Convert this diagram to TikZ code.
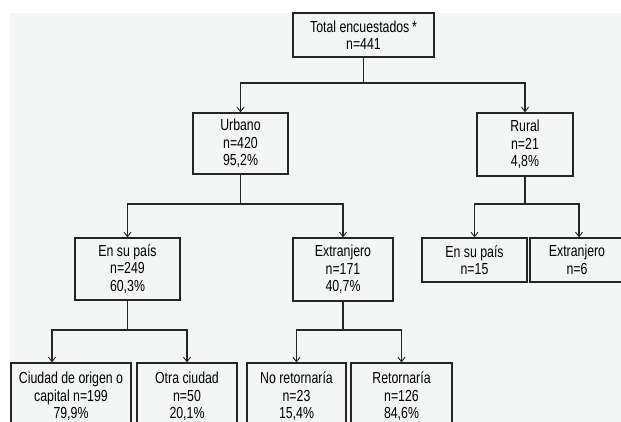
\documentclass[tikz,border=0pt]{standalone}
\usepackage{fontspec}
\setmainfont{Liberation Sans}[FakeStretch=0.77]
\usetikzlibrary{arrows.meta}
\definecolor{bg}{HTML}{F4F5F5}
\definecolor{linec}{HTML}{262626}
\tikzset{
  box/.style={draw=linec, line width=1.2pt, inner sep=0pt, align=center, text=black},
  conn/.style={draw=linec, line width=1.2pt},
  arr/.style={conn, -{Straight Barb[length=4.5pt,width=7pt,line width=0.9pt]}}
}
\begin{document}
\begin{tikzpicture}[x=1pt,y=-1pt,font=\fontsize{16}{17.5}\selectfont]
\useasboundingbox (0,0) rectangle (621,422);
\clip (0,0) rectangle (621,422);
\fill[white] (0,0) rectangle (621,422);
\fill[bg] (10,13) rectangle (621,422);

\node[box, minimum width=141pt, minimum height=44pt] (top) at (363.5,35) {Total encuestados\,*\\n=441};
\node[box, minimum width=95pt, minimum height=61pt] (urb) at (240.5,143.5) {Urbano\\n=420\\95,2\%};
\node[box, minimum width=96pt, minimum height=63pt] (rur) at (525,144.5) {Rural\\n=21\\4,8\%};
\node[box, minimum width=105pt, minimum height=62pt] (upais) at (127.5,269) {En su país\\n=249\\60,3\%};
\node[box, minimum width=100pt, minimum height=63pt] (uext) at (343,269.5) {Extranjero\\n=171\\40,7\%};
\node[box, minimum width=105pt, minimum height=44pt] (rpais) at (474.5,260) {En su país\\n=15};
\node[box, minimum width=94pt, minimum height=44pt] (rext) at (577,260) {Extranjero\\n=6};
\node[box, minimum width=120pt, minimum height=67pt] (ciud) at (71,396.5) {Ciudad de origen o\\capital n=199\\79,9\%};
\node[box, minimum width=100pt, minimum height=67pt] (otra) at (187,396.5) {Otra ciudad\\n=50\\20,1\%};
\node[box, minimum width=99pt, minimum height=67pt] (noret) at (296.5,396.5) {No retornaría\\n=23\\15,4\%};
\node[box, minimum width=101pt, minimum height=67pt] (ret) at (401.5,396.5) {Retornaría\\n=126\\84,6\%};

\coordinate (j0) at (363.5,83);
\coordinate (j1) at (240.5,204);
\coordinate (j2) at (525,204);
\coordinate (j3) at (127.5,330);
\coordinate (j4) at (343,330);

\draw[conn] (top.south) -- (j0);
\draw[arr] (j0) -| (urb.north);
\draw[arr] (j0) -| (rur.north);

\draw[conn] (urb.south) -- (j1);
\draw[arr] (j1) -| (upais.north);
\draw[arr] (j1) -| (uext.north);

\draw[conn] (rur.south) -- (j2);
\draw[arr] (j2) -| (rpais.north);
\draw[arr] (j2) -| ([xshift=2pt]rext.north);

\draw[conn] (upais.south) -- (j3);
\draw[arr] (j3) -| ([xshift=-19pt]ciud.north);
\draw[arr] (j3) -| (otra.north);

\draw[conn] (uext.south) -- (j4);
\draw[arr] (j4) -| (noret.north);
\draw[arr] (j4) -| (ret.north);
\end{tikzpicture}
\end{document}
